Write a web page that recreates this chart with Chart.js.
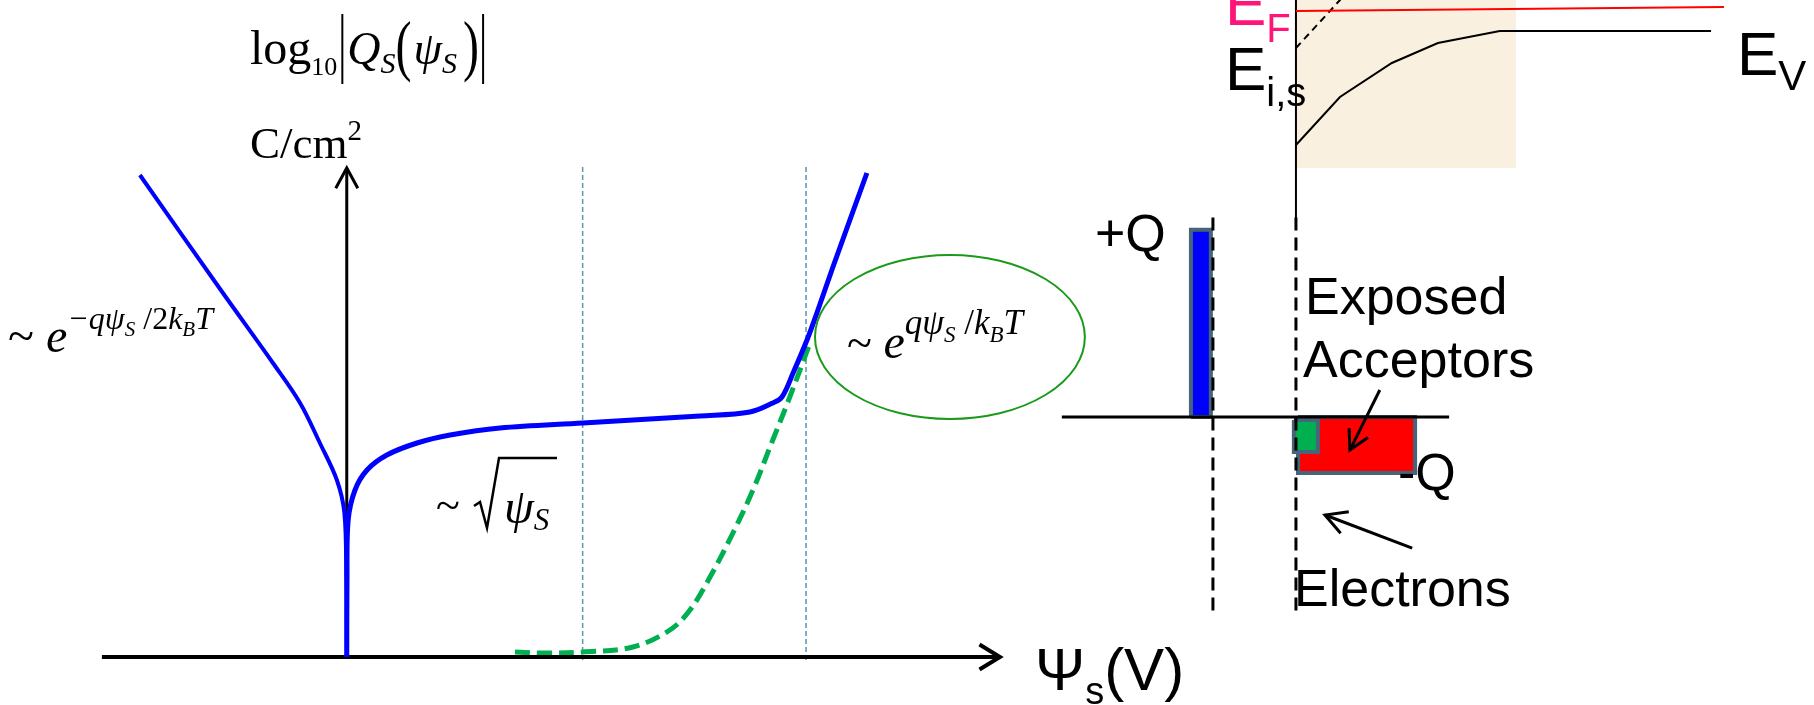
<!DOCTYPE html>
<html>
<head>
<meta charset="utf-8">
<script src="https://cdn.jsdelivr.net/npm/chart.js@4.4.1/dist/chart.umd.min.js"></script>
<style>
  html, body { margin: 0; padding: 0; background: #fff; overflow: hidden; }
  canvas { display: block; }
</style>
</head>
<body>
<canvas id="c" width="1814" height="705"></canvas>
<script>
// ---- left plot: log10|Qs| versus psi_s (psi_s in units of psi_B) ----
const invPsi = [-0.877, -0.525, -0.313, -0.198, -0.114, -0.042, -0.010, -0.002, 0];
const invLogQ = [9.64, 7.28, 5.88, 5.08, 4.28, 3.54, 2.88, 1.54, 0];
const depPsi = [0, 0.001, 0.006, 0.035, 0.086, 0.170, 0.298, 0.438, 0.649, 1.001, 1.497, 1.709, 1.806, 1.845, 1.892, 1.951, 1.993, 2.061, 2.205];
const depLogQ = [0, 1.54, 2.74, 3.34, 3.74, 4.04, 4.28, 4.44, 4.58, 4.68, 4.82, 4.90, 5.08, 5.20, 5.68, 6.34, 6.88, 7.80, 9.68];
const elecPsi = [0.713, 0.840, 1.001, 1.213, 1.370, 1.455, 1.540, 1.637, 1.722, 1.806, 1.870, 1.964];
const elecLogQ = [0.10, 0.08, 0.10, 0.20, 0.54, 0.94, 1.60, 2.48, 3.34, 4.34, 5.10, 6.28];
const markerPsi = [1.0, 1.947];          // psi_B and 2 psi_B
const markerLogQ = [-0.06, 9.8];
const psiAxis = [-1.038, 2.769];
const logQAxis = [0, 9.78];
const strongInv = { psi: 2.557, logQ: 6.40, dPsi: 0.572, dLogQ: 1.64 };

// ---- band diagram: position (nm from Si surface), energy (eV from E_F) ----
const evX = [0, 1.06, 2.31, 3.42, 4.91, 10.0];
const evE = [-0.675, -0.435, -0.265, -0.165, -0.105, -0.105];
const efX = [0, 10.31];
const efE = [-0.005, 0.015];
const eiX = [0, 1.3];
const eiE = [-0.19, 0.104];
const depletionX = [0, 5.30];
const depletionE = [-0.79, 0.05];
const surfaceE = [0.05, -1.04];

// ---- charge diagram: position (nm), charge (arb.) ----
const gateX = [-2.53, -2.05];
const gateQ = [0, 0.985];
const acceptorX = [0.05, 2.87];
const acceptorQ = [0, -0.295];
const electronX = [-0.05, 0.53];
const electronQ = [-0.016, -0.184];
const oxideEdgeX = [-2.0, 0];
const oxideEdgeQ = [1.05, -1.03];
const chargeAxisX = [-5.64, 3.69];
const acceptorArrow = { x: [2.02, 1.30], q: [0.142, -0.174] };
const electronArrow = { x: [2.80, 0.70], q: [-0.69, -0.516] };

const zip = (xs, ys) => xs.map((v, i) => ({ x: v, y: ys[i] }));
const rect = (xs, ys) => zip([xs[0], xs[1], xs[1], xs[0], xs[0]], [ys[0], ys[0], ys[1], ys[1], ys[0]]);
const line = (data, color, width, extra) => Object.assign({
  data, borderColor: color, borderWidth: width, showLine: true,
  pointRadius: 0, fill: false, tension: 0
}, extra);
const R = { xAxisID: 'xr', yAxisID: 'yE' };
const Q = { xAxisID: 'xr', yAxisID: 'yQ' };
const L = { xAxisID: 'x', yAxisID: 'y' };
const edge = '#46647a';

const datasets = [
  // left plot
  line(zip(invPsi, invLogQ), '#0000ff', 4, Object.assign({ tension: 0.35 }, L)),
  line(zip(depPsi, depLogQ), '#0000ff', 5, Object.assign({ tension: 0.35 }, L)),
  line(zip(elecPsi, elecLogQ), '#00b050', 5, Object.assign({ tension: 0.35, borderDash: [15, 7], order: 1 }, L)),
  line(zip(psiAxis, [0, 0]), '#000', 4, Object.assign({ arrowHead: [24, 0.55] }, L)),
  line(zip([0, 0], logQAxis), '#000', 3, Object.assign({ arrowHead: [23, 0.5] }, L)),
  line(zip([markerPsi[0], markerPsi[0]], markerLogQ), '#5b93b4', 1.5, Object.assign({ borderDash: [5, 3], order: 3 }, L)),
  line(zip([markerPsi[1], markerPsi[1]], markerLogQ), '#5b93b4', 1.5, Object.assign({ borderDash: [5, 3], order: 3 }, L)),

  // band diagram
  line(rect(depletionX, depletionE), 'rgba(0,0,0,0)', 0, Object.assign({ fill: 'shape', backgroundColor: '#faf0e0', order: 10 }, R)),
  line(zip(efX, efE), '#ff0000', 2, R),
  line(zip(evX, evE), '#000', 2, R),
  line(zip(eiX, eiE), '#000', 2, Object.assign({ borderDash: [7, 5] }, R)),
  line(zip([0, 0], surfaceE), '#000', 2, R),

  // charge diagram
  line(rect(gateX, gateQ), edge, 4, Object.assign({ fill: 'shape', backgroundColor: '#0000ff', borderJoinStyle: 'miter', order: 2 }, Q)),
  line(rect(acceptorX, acceptorQ), edge, 4, Object.assign({ fill: 'shape', backgroundColor: '#ff0000', borderJoinStyle: 'miter', order: 2 }, Q)),
  line(rect(electronX, electronQ), edge, 4, Object.assign({ fill: 'shape', backgroundColor: '#00b050', borderJoinStyle: 'miter', order: 1 }, Q)),
  line(zip([oxideEdgeX[0], oxideEdgeX[0]], oxideEdgeQ), '#000', 3, Object.assign({ borderDash: [13, 7] }, Q)),
  line(zip([oxideEdgeX[1], oxideEdgeX[1]], oxideEdgeQ), '#000', 3, Object.assign({ borderDash: [13, 7] }, Q)),
  line(zip(chargeAxisX, [0, 0]), '#000', 3, Q),
  line(zip(acceptorArrow.x, acceptorArrow.q), '#000', 3, Object.assign({ arrowHead: [22, 0.5] }, Q)),
  line(zip(electronArrow.x, electronArrow.q), '#000', 3, Object.assign({ arrowHead: [24, 0.5] }, Q))
];

const SERIF = '"Liberation Serif", "Times New Roman", serif';
const SANS = '"Liberation Sans", Arial, sans-serif';
const ser = (s, it) => (it ? 'italic ' : '') + s + 'px ' + SERIF;
const sans = s => s + 'px ' + SANS;

function drawRuns(ctx, x, y, runs) {
  runs.forEach(r => {
    ctx.font = r.f;
    ctx.fillStyle = r.c || '#000';
    x += r.dx || 0;
    if (r.sy) {
      // tall thin glyph (parentheses)
      ctx.save();
      ctx.translate(x, y + (r.dy || 0));
      ctx.scale(1, r.sy);
      ctx.fillText(r.t, 0, 0);
      ctx.restore();
    } else {
      ctx.fillText(r.t, x, y + (r.dy || 0));
    }
    x += ctx.measureText(r.t).width + (r.after || 0);
  });
  return x;
}

const decor = {
  id: 'decor',
  afterDatasetsDraw(chart) {
    const ctx = chart.ctx;
    ctx.save();
    ctx.lineCap = 'butt';
    // arrow heads on the ends of the flagged lines
    chart.data.datasets.forEach((ds, i) => {
      if (!ds.arrowHead) return;
      const pts = chart.getDatasetMeta(i).data;
      const a = pts[pts.length - 2], b = pts[pts.length - 1];
      const ang = Math.atan2(b.y - a.y, b.x - a.x);
      const [len, spread] = ds.arrowHead;
      ctx.strokeStyle = ds.borderColor;
      ctx.lineWidth = ds.borderWidth;
      ctx.beginPath();
      ctx.moveTo(b.x - len * Math.cos(ang - spread), b.y - len * Math.sin(ang - spread));
      ctx.lineTo(b.x, b.y);
      ctx.lineTo(b.x - len * Math.cos(ang + spread), b.y - len * Math.sin(ang + spread));
      ctx.stroke();
    });

    // strong inversion ellipse
    const sx = chart.scales.x, sy = chart.scales.y;
    const cx = sx.getPixelForValue(strongInv.psi), cy = sy.getPixelForValue(strongInv.logQ);
    const rx = sx.getPixelForValue(strongInv.psi + strongInv.dPsi) - cx;
    const ry = cy - sy.getPixelForValue(strongInv.logQ + strongInv.dLogQ);
    ctx.strokeStyle = '#1a9a1a';
    ctx.lineWidth = 2;
    ctx.beginPath();
    ctx.ellipse(cx, cy, rx, ry, 0, 0, Math.PI * 2);
    ctx.stroke();

    ctx.textBaseline = 'alphabetic';
    // y axis title
    let end = drawRuns(ctx, 250, 64, [
      { t: 'log', f: ser(48) },
      { t: '10', f: ser(26), dy: 11 }
    ]);
    ctx.strokeStyle = '#000';
    ctx.lineWidth = 2;
    ctx.beginPath(); ctx.moveTo(end + 5, 14); ctx.lineTo(end + 5, 84); ctx.stroke();
    end = drawRuns(ctx, end + 10, 64, [
      { t: 'Q', f: ser(46, true) },
      { t: 'S', f: ser(30, true), dy: 9 },
      { t: '(', f: ser(48), sy: 1.4, dy: 4, after: 2 },
      { t: 'ψ', f: ser(46, true) },
      { t: 'S', f: ser(30, true), dy: 9 },
      { t: ')', f: ser(48), sy: 1.4, dx: 6, dy: 4 }
    ]);
    ctx.beginPath(); ctx.moveTo(end + 4, 14); ctx.lineTo(end + 4, 84); ctx.stroke();

    drawRuns(ctx, 250, 158, [
      { t: 'C/cm', f: ser(45) },
      { t: '2', f: ser(29), dy: -18 }
    ]);

    // accumulation slope
    drawRuns(ctx, 8, 352, [
      { t: '~ ', f: ser(48) },
      { t: 'e', f: ser(48, true) },
      { t: '−q', f: ser(32, true), dy: -23 },
      { t: 'ψ', f: ser(32, true), dy: -23 },
      { t: 'S', f: ser(21, true), dy: -16 },
      { t: ' /2', f: ser(32), dy: -23 },
      { t: 'k', f: ser(32, true), dy: -23 },
      { t: 'B', f: ser(21, true), dy: -16 },
      { t: 'T', f: ser(32, true), dy: -23 }
    ]);

    // depletion slope
    drawRuns(ctx, 436, 520, [{ t: '~', f: ser(44) }]);
    ctx.lineWidth = 2.5;
    ctx.beginPath();
    ctx.moveTo(474, 506); ctx.lineTo(480, 502); ctx.lineTo(487, 528);
    ctx.lineTo(499, 458); ctx.lineTo(557, 458);
    ctx.stroke();
    drawRuns(ctx, 504, 523, [
      { t: 'ψ', f: ser(48, true) },
      { t: 'S', f: ser(31, true), dy: 7 }
    ]);

    // inversion slope
    drawRuns(ctx, 847, 358, [
      { t: '~ ', f: ser(46) },
      { t: 'e', f: ser(48, true) },
      { t: 'q', f: ser(35, true), dy: -24 },
      { t: 'ψ', f: ser(35, true), dy: -24 },
      { t: 'S', f: ser(23, true), dy: -16 },
      { t: ' /', f: ser(35), dy: -24 },
      { t: 'k', f: ser(35, true), dy: -24 },
      { t: 'B', f: ser(23, true), dy: -16 },
      { t: 'T', f: ser(35, true), dy: -24 }
    ]);

    // x axis title
    drawRuns(ctx, 1035, 690, [
      { t: 'Ψ', f: sans(60) },
      { t: 's', f: sans(38), dy: 14 },
      { t: '(V)', f: sans(60) }
    ]);

    // band labels
    drawRuns(ctx, 1225, 25, [
      { t: 'E', f: sans(62), c: '#ff1477' },
      { t: 'F', f: sans(40), c: '#ff1477', dy: 17 }
    ]);
    drawRuns(ctx, 1225, 90, [
      { t: 'E', f: sans(62) },
      { t: 'i,s', f: sans(40), dy: 16 }
    ]);
    drawRuns(ctx, 1737, 75, [
      { t: 'E', f: sans(62) },
      { t: 'V', f: sans(42), dy: 15 }
    ]);

    // charge labels
    drawRuns(ctx, 1095, 251, [{ t: '+Q', f: sans(52) }]);
    drawRuns(ctx, 1305, 314, [{ t: 'Exposed', f: sans(52) }]);
    drawRuns(ctx, 1303, 377, [{ t: 'Acceptors', f: sans(52) }]);
    drawRuns(ctx, 1398, 490, [{ t: '-Q', f: sans(52) }]);
    drawRuns(ctx, 1294, 606, [{ t: 'Electrons', f: sans(52) }]);
    ctx.restore();
  }
};

new Chart(document.getElementById('c'), {
  type: 'scatter',
  data: { datasets },
  options: {
    responsive: false,
    devicePixelRatio: 1,
    animation: false,
    layout: { padding: 0 },
    plugins: { legend: { display: false }, tooltip: { enabled: false } },
    scales: {
      x: { type: 'linear', axis: 'x', display: false, min: -1.47, max: 6.22 },
      y: { type: 'linear', axis: 'y', display: false, min: -0.96, max: 13.14 },
      xr: { type: 'linear', axis: 'x', display: false, min: -31.22, max: 12.48 },
      yE: { type: 'linear', axis: 'y', display: false, min: -3.475, max: 0.05 },
      yQ: { type: 'linear', axis: 'y', display: false, min: -1.516, max: 2.195 }
    }
  },
  plugins: [decor]
});
</script>
</body>
</html>
